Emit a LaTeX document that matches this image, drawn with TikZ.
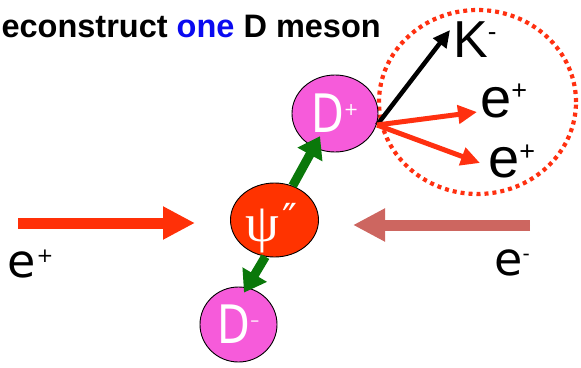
\documentclass[tikz,border=0pt]{standalone}
\usepackage{fontspec}
\setmainfont{Liberation Sans}
\newfontfamily\comic{DejaVu Sans}
\newfontfamily\serifgr{Liberation Serif}
\usetikzlibrary{arrows.meta,shapes.geometric}
\definecolor{dpink}{RGB}{246,91,218}
\definecolor{psired}{RGB}{255,51,0}
\definecolor{beamred}{RGB}{255,48,8}
\definecolor{beamrose}{RGB}{205,102,96}
\definecolor{dgreen}{RGB}{10,120,10}
\definecolor{ringred}{RGB}{255,48,16}
\definecolor{oneblue}{RGB}{10,10,240}
\newcommand\rsup[3]{\raisebox{#2}{\fontsize{#1}{#1}\selectfont #3}}
\begin{document}
\begin{tikzpicture}[x=1pt,y=-1pt]
\tikzset{
  meson/.style={ellipse, draw=black, line width=0.9pt, inner sep=0pt, fill=dpink, text=white, font=\comic\fontsize{53}{53}\selectfont},
  greenarr/.style={draw=dgreen, line width=9pt, -{Triangle[length=21pt,width=27pt]}},
  beam/.style={line width=11pt, -{Triangle[length=32pt,width=31pt]}},
  decay/.style={line width=5pt, -{Triangle[length=19pt,width=18pt]}},
  lbl/.style={inner sep=0pt, anchor=base west}
}
\useasboundingbox (0,0) rectangle (581,367);
% title
\node[inner sep=0pt, anchor=base east, font=\bfseries\fontsize{32.5}{32.5}\selectfont] (title) at (381,37) {econstruct \textcolor{oneblue}{one} D meson};
% dotted ring
\node[ellipse, draw=ringred, line width=4.2pt, dash pattern=on 4pt off 4pt, minimum width=197pt, minimum height=184pt, inner sep=0pt] (ring) at (477.5,102) {};
% beams
\coordinate (bl0) at (18,223);
\coordinate (bl1) at (195,223);
\coordinate (br0) at (530,225);
\coordinate (br1) at (353,225);
\draw[beam, draw=beamred, fill=beamred] (bl0) -- (bl1);
\draw[beam, draw=beamrose, fill=beamrose] (br0) -- (br1);
% particles
\node[ellipse, draw=black, line width=0.9pt, fill=psired, minimum width=88pt, minimum height=74pt, inner sep=0pt] (psi) at (274.5,220) {};
\node[lbl, text=white, font=\serifgr\fontsize{54}{54}\selectfont] (psilab) at (245,241) {ψ\hspace{3pt}{\comic\rsup{40}{9pt}{″}}};
\node[meson, minimum width=86pt, minimum height=77pt] (Dp) at (335,113.5) {\scalebox{0.8}[1]{D}\rsup{17.5}{17pt}{+}};
\node[meson, minimum width=77pt, minimum height=75pt] (Dm) at (238.5,324.5) {\scalebox{0.8}[1]{D}\rsup{18}{17.6pt}{–}};
% green connectors
\draw[greenarr, shorten >=-13pt] (psi.62) -- (Dp.238);
\draw[greenarr, shorten >=-6pt] (psi.256) -- (Dm.77);
% decay
\coordinate (vtx) at (377,125);
\coordinate (tK) at (450,30);
\coordinate (t1) at (477,112);
\coordinate (t2) at (480,163);
\draw[line width=4.5pt, -{Triangle[length=17pt,width=16pt]}, black] (vtx) -- (tK);
\draw[decay, draw=ringred, fill=ringred] (vtx) -- (t1);
\draw[decay, draw=ringred, fill=ringred] (vtx) -- (t2);
% labels
\node[lbl, font=\fontsize{52}{52}\selectfont] (K) at (453,57) {K\rsup{26}{17pt}{-}};
\node[lbl, font=\fontsize{56}{56}\selectfont] (e1) at (480,117) {e\rsup{27}{18pt}{+}};
\node[lbl, font=\fontsize{56}{56}\selectfont] (e2) at (488,177) {e\rsup{27}{17pt}{+}};
\node[lbl, font=\comic\fontsize{46}{46}\selectfont] (epl) at (7,277) {e\hspace{1pt}\rsup{20}{15pt}{+}};
\node[lbl, font=\comic\fontsize{46}{46}\selectfont] (emi) at (494,275) {e\rsup{20}{15pt}{-}};
\end{tikzpicture}
\end{document}
